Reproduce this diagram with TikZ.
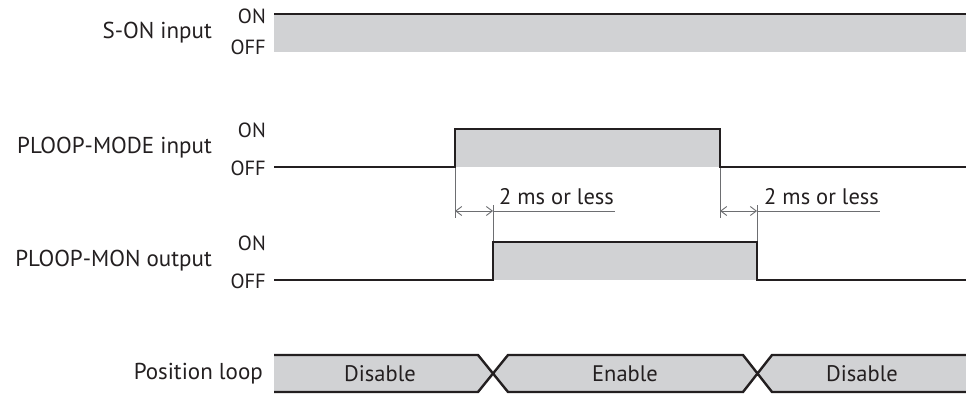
\documentclass[tikz,border=0pt]{standalone}
\usepackage{fontspec}
\setmainfont{PT Sans}
\usetikzlibrary{arrows.meta}
\definecolor{sig}{HTML}{231F20}
\definecolor{gfill}{HTML}{D1D2D4}
\definecolor{dimc}{HTML}{6D6E71}
\begin{document}
\begin{tikzpicture}[x=1pt,y=-1pt,
  sigline/.style={draw=sig,line width=2.8pt,line join=miter},
  dimline/.style={draw=dimc,line width=0.9pt},
  dimarrow/.style={dimline,{Straight Barb[length=6pt,width=9pt]}-{Straight Barb[length=6pt,width=9pt]}},
  lbl/.style={anchor=east,inner sep=0pt,font=\fontsize{23}{26}\selectfont,text=sig},
  lvl/.style={anchor=east,inner sep=0pt,font=\fontsize{20.5}{24}\selectfont,text=sig},
  txt/.style={inner sep=0pt,font=\fontsize{22.5}{26}\selectfont,text=sig}]
\useasboundingbox (0,0) rectangle (966,396);
% ---------- S-ON input
\fill[gfill] (274,15) rectangle (966,52);
\draw[sigline] (274,14) -- (966,14);
\node[lbl] (son) at (212,33) {S-ON input};
\node[lvl] (son-on) at (266,16) {ON};
\node[lvl] (son-off) at (266,47) {OFF};
% ---------- PLOOP-MODE input
\coordinate (m0) at (274,167);
\coordinate (m1) at (455,167);
\coordinate (m2) at (455,129);
\coordinate (m3) at (720,129);
\coordinate (m4) at (720,167);
\coordinate (m5) at (966,167);
\fill[gfill] (m2) rectangle (m4);
\node[lbl] (mode) at (212,148) {PLOOP-MODE input};
\node[lvl] (mode-on) at (266,130) {ON};
\node[lvl] (mode-off) at (266,168) {OFF};
% ---------- PLOOP-MON output
\coordinate (n0) at (274,280);
\coordinate (n1) at (493,280);
\coordinate (n2) at (493,242);
\coordinate (n3) at (757,242);
\coordinate (n4) at (757,280);
\coordinate (n5) at (966,280);
\fill[gfill] (n2) rectangle (n4);
\node[lbl] (mon) at (212,261) {PLOOP-MON output};
\node[lvl] (mon-on) at (266,243) {ON};
\node[lvl] (mon-off) at (266,281) {OFF};
% ---------- dimension lines
\coordinate (d1a) at (455,218);
\coordinate (d1b) at (493,205);
\coordinate (a1l) at (455,211);
\coordinate (a1r) at (493,211);
\coordinate (l1e) at (615,211);
\draw[dimline] (m1) -- (d1a);
\draw[dimline] (d1b) -- (n2);
\draw[dimarrow] (a1l) -- (a1r);
\draw[dimline] (a1r) -- (l1e);
\node[txt,anchor=south west] (t1) at (499,205) {2 ms or less};
\coordinate (d2a) at (720,218);
\coordinate (d2b) at (757,205);
\coordinate (a2l) at (720,211);
\coordinate (a2r) at (757,211);
\coordinate (l2e) at (880,211);
\draw[dimline] (m4) -- (d2a);
\draw[dimline] (d2b) -- (n3);
\draw[dimarrow] (a2l) -- (a2r);
\draw[dimline] (a2r) -- (l2e);
\node[txt,anchor=south west] (t2) at (764,205) {2 ms or less};
% signal lines on top
\draw[sigline] (m0) -- (m1) -- (m2) -- (m3) -- (m4) -- (m5);
\draw[sigline] (n0) -- (n1) -- (n2) -- (n3) -- (n4) -- (n5);
% ---------- Position loop
\fill[gfill] (274,355) -- (478,355) -- (493,373.5) -- (478,392) -- (274,392) -- cycle;
\fill[gfill] (508,355) -- (743,355) -- (758,373.5) -- (743,392) -- (508,392) -- (493,373.5) -- cycle;
\fill[gfill] (772,355) -- (966,355) -- (966,392) -- (772,392) -- (758,373.5) -- cycle;
\draw[sig,line width=2.4pt,line join=miter]
  (274,355) -- (478,355) -- (508,392) -- (743,392) -- (772,355) -- (966,355)
  (274,392) -- (478,392) -- (508,355) -- (743,355) -- (772,392) -- (966,392);
\node[lbl] (pos) at (263,374) {Position loop};
\node[txt] (dis1) at (380,374) {Disable};
\node[txt] (en) at (625,374) {Enable};
\node[txt] (dis2) at (862,374) {Disable};
\end{tikzpicture}
\end{document}
